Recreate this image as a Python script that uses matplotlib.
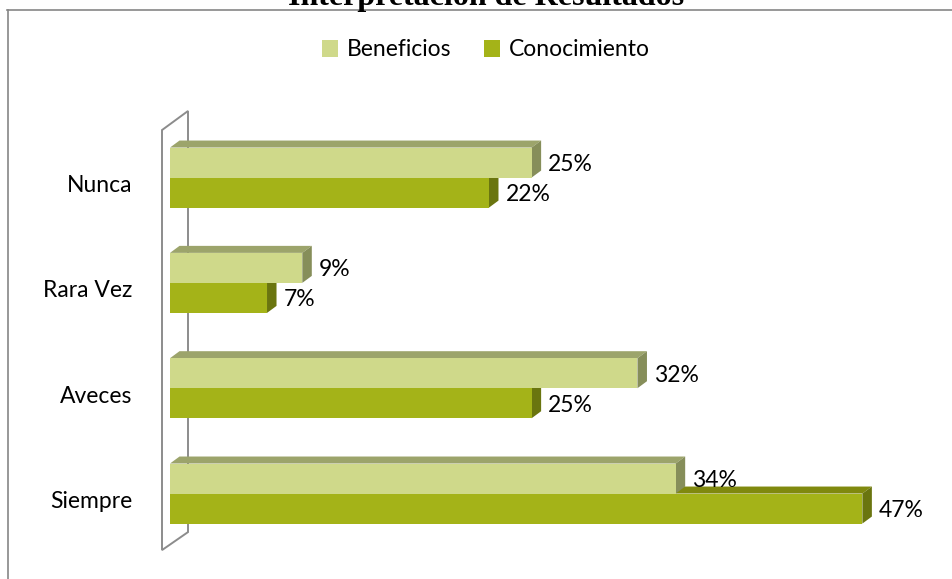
import matplotlib
matplotlib.use("Agg")
import matplotlib.pyplot as plt
from matplotlib.patches import Polygon, Patch
from matplotlib.lines import Line2D
from matplotlib.transforms import offset_copy

# data (percent), categories top to bottom
categorias = ["Nunca", "Rara Vez", "Aveces", "Siempre"]
beneficios = [24.6, 9.0, 31.8, 34.4]
conocimiento = [21.7, 6.6, 24.6, 47.1]
series = ["Beneficios", "Conocimiento"]

# colours: front, top, side
col_ben = ("#CFD98A", "#9CA46B", "#868E5A")
col_con = ("#A4B318", "#80890E", "#6A750F")

DPI = 100
fig = plt.figure(figsize=(9.52, 5.79), dpi=DPI)
ax = fig.add_axes([170 / 952, 1 - 546.2 / 579, 735 / 952, 421.3 / 579])
ax.set_xlim(0, 50)
ax.set_ylim(3.5, -0.5)
ax.axis("off")

h = 0.285
font = "Lato"
fs = 16.5


def px_to_data(dx, dy):
    p0 = ax.transData.transform((0, 0))
    p1 = ax.transData.inverted().transform((p0[0] + dx, p0[1] + dy))
    return p1[0], p1[1]


ddx, ddy = px_to_data(9.5, 7)


def depth_faces(v, yc, cols, z):
    top, bot = yc - h / 2, yc + h / 2
    tf = Polygon([(0, top), (v, top), (v + ddx, top + ddy), (ddx, top + ddy)],
                 closed=True, fc=cols[1], ec="none", zorder=z)
    sf = Polygon([(v, top), (v + ddx, top + ddy), (v + ddx, bot + ddy), (v, bot)],
                 closed=True, fc=cols[2], ec="none", zorder=z)
    ax.add_patch(tf)
    ax.add_patch(sf)


# back wall (3D frame)
wx0, _ = px_to_data(-8, 0)
wx1, _ = px_to_data(18, 0)
wall = Polygon([(wx0, -0.451), (wx1, -0.632), (wx1, 3.366), (wx0, 3.537)],
               closed=True, fc="none", ec="#8C8C8C", lw=1.4, zorder=1, clip_on=False)
ax.add_patch(wall)

yb = [i - h / 2 for i in range(len(categorias))]
yc = [i + h / 2 for i in range(len(categorias))]

for v, y in zip(conocimiento, yc):
    depth_faces(v, y, col_con, 2)
for v, y in zip(beneficios, yb):
    depth_faces(v, y, col_ben, 3)

ax.barh(yb, beneficios, height=h, color=col_ben[0], zorder=4)
ax.barh(yc, conocimiento, height=h, color=col_con[0], zorder=4)

lab_tr = offset_copy(ax.transData, fig=fig, x=16.5, y=-2, units="dots")
for vals, ys in ((beneficios, yb), (conocimiento, yc)):
    for v, y in zip(vals, ys):
        ax.text(v, y, f"{v:.0f}%", transform=lab_tr, ha="left", va="center",
                fontsize=fs, fontfamily=font, color="black", zorder=6)

cat_tr = offset_copy(ax.transData, fig=fig, x=-38, y=-8, units="dots")
for i, c in enumerate(categorias):
    ax.text(0, i, c, transform=cat_tr, ha="right", va="center",
            fontsize=fs, fontfamily=font, color="black")

handles = [Patch(fc=col_ben[0], ec="none"), Patch(fc=col_con[0], ec="none")]
fig.legend(handles, series, loc="center", bbox_to_anchor=(486 / 952, 1 - 50 / 579),
           ncol=2, frameon=False, prop={"family": font, "size": fs},
           handlelength=0.7, handleheight=0.7, handletextpad=0.4, columnspacing=1.4)

# chart border (top and left only visible)
fig.add_artist(Line2D([7 / 952, 1], [1 - 10 / 579, 1 - 10 / 579], color="#868686", lw=1.2))
fig.add_artist(Line2D([8 / 952, 8 / 952], [1 - 10 / 579, 0], color="#868686", lw=1.2))

# title is cut off by the top edge, as in the original
fig.text(486 / 952, 1 - 5 / 579, "Interpretación de Resultados", ha="center", va="baseline",
         fontfamily="Liberation Serif", fontweight="bold", fontsize=23)

fig.savefig("out.png", dpi=DPI)
